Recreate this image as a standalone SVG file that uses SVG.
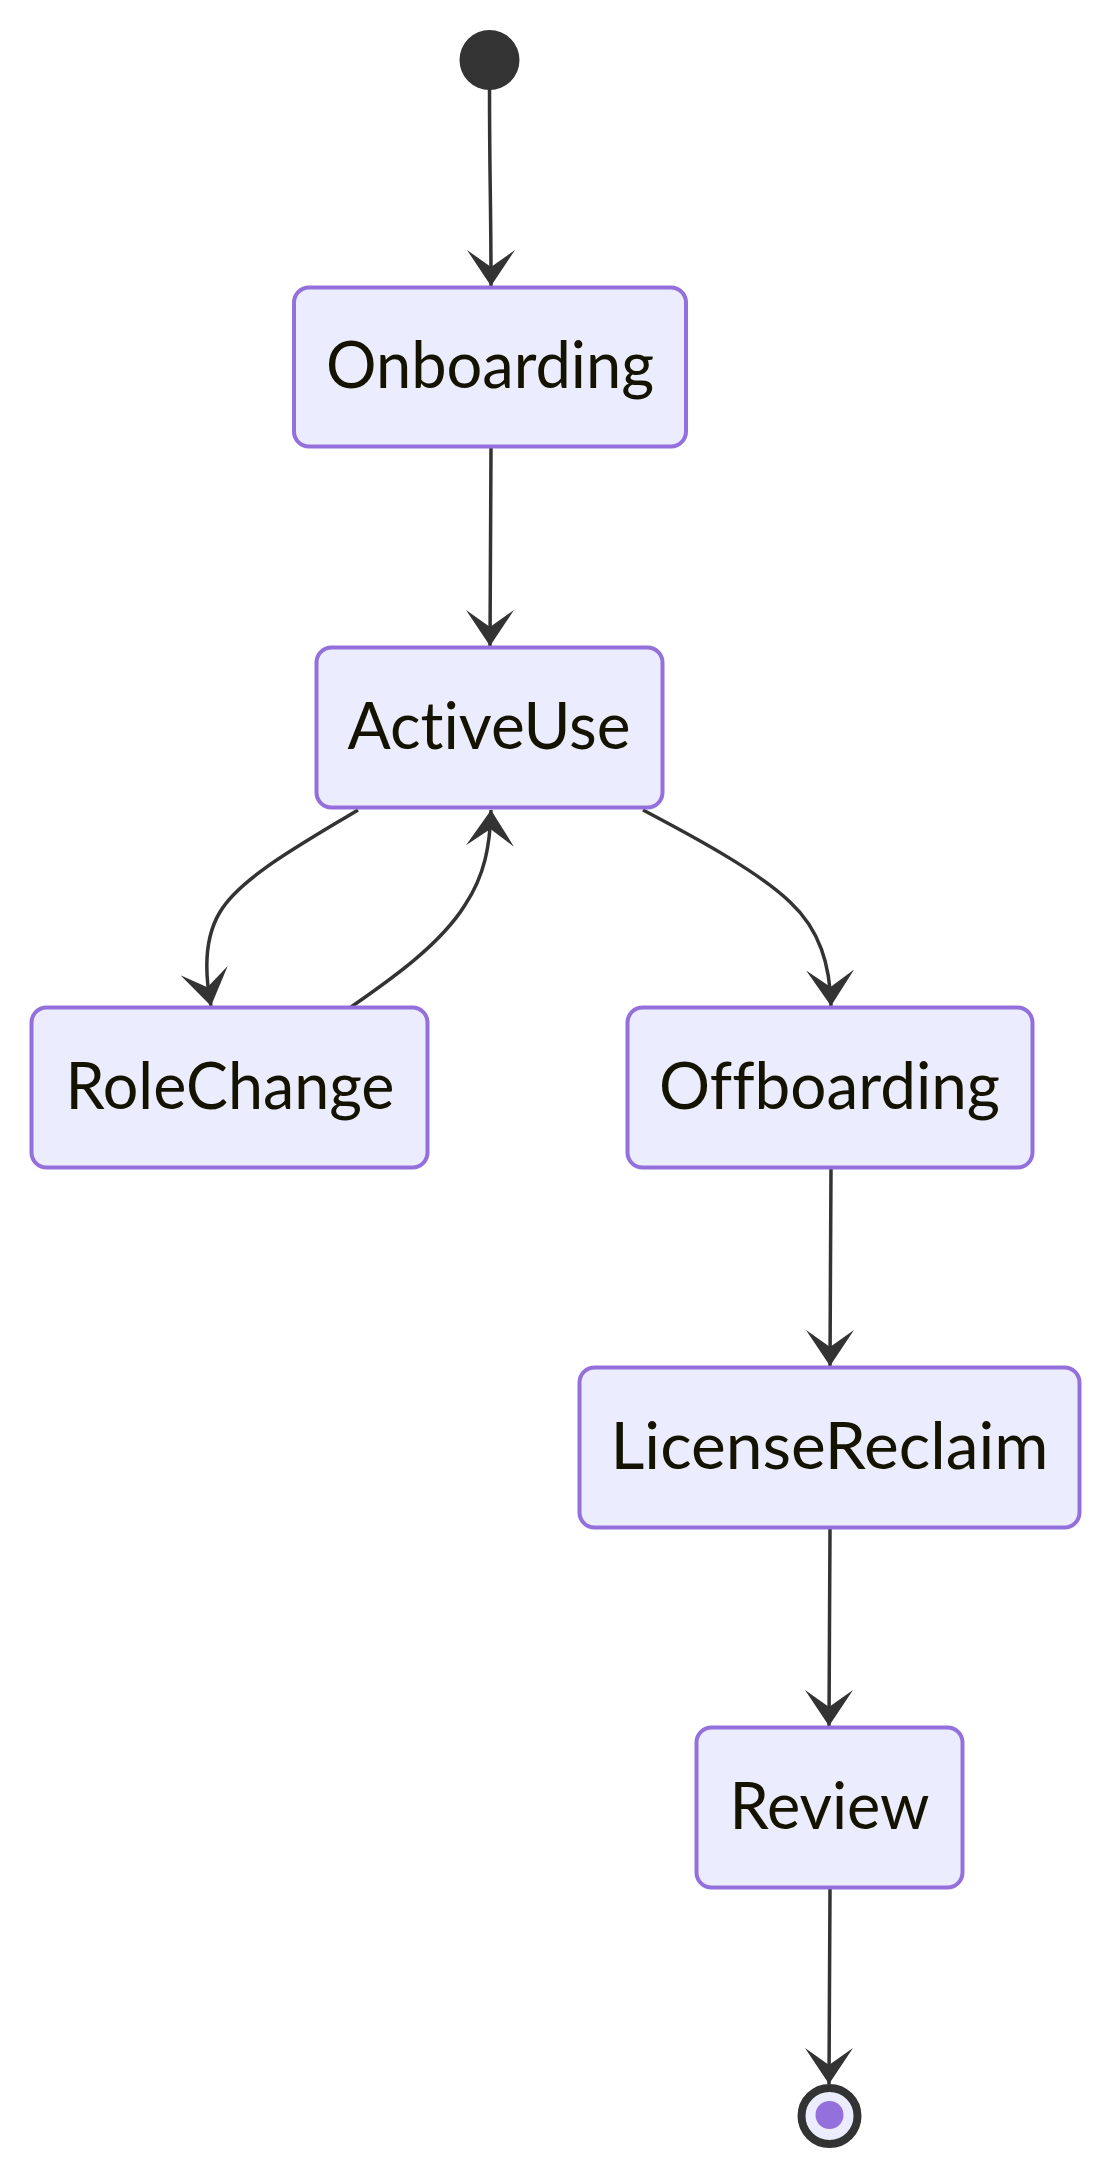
<svg xmlns="http://www.w3.org/2000/svg" width="1112" height="2176" viewBox="0 0 1112 2176">
<style>
.node rect{fill:#ECECFF;stroke:#9370DB;stroke-width:4}
.node text{font-family:Lato,"Open Sans","DejaVu Sans",sans-serif;font-size:66px;fill:#131300;text-anchor:middle;font-variant-ligatures:none}
.edge{fill:none;stroke:#333333;stroke-width:3.5;marker-end:url(#arrow)}
</style>
<defs>
<marker id="arrow" markerUnits="userSpaceOnUse" viewBox="0 0 36 48" refX="36" refY="24" markerWidth="36" markerHeight="48" orient="auto">
<path d="M0,0 L36,24 L0,48 L17,24 Z" fill="#333333"/>
</marker>
</defs>
<rect width="1112" height="2176" fill="#ffffff"/>
<g id="edges">
<path class="edge" d="M489.5,89 C489.5,180 491,200 491,286"/>
<path class="edge" d="M491,448 C491,530 490,560 490,646"/>
<path class="edge" d="M358,810 C300,845 240,878 220,912 C203,940 205,975 211,1006"/>
<path class="edge" d="M351,1007 C390,980 440,945 465,905 C485,875 490,845 491,810"/>
<path class="edge" d="M643,810 C700,840 760,873 790,902 C820,930 830,965 831,1006"/>
<path class="edge" d="M831,1169 C831,1250 830,1290 830,1366"/>
<path class="edge" d="M830,1529 C830,1610 829,1650 829,1726"/>
<path class="edge" d="M830,1889 C830,1970 829,2010 829,2084"/>
</g>
<g id="start">
<circle cx="489.5" cy="60" r="30" fill="#333333"/>
</g>
<g id="Onboarding" class="node">
<rect x="294" y="287.5" width="392" height="159" rx="15" ry="15"/>
<text x="490" y="388" textLength="328" lengthAdjust="spacingAndGlyphs">Onboarding</text>
</g>
<g id="ActiveUse" class="node">
<rect x="316.5" y="647.5" width="346" height="160" rx="15" ry="15"/>
<text x="489" y="748.5" textLength="283" lengthAdjust="spacingAndGlyphs">ActiveUse</text>
</g>
<g id="RoleChange" class="node">
<rect x="31.5" y="1007.5" width="396" height="160" rx="15" ry="15"/>
<text x="230" y="1108.5" textLength="329" lengthAdjust="spacingAndGlyphs">RoleChange</text>
</g>
<g id="Offboarding" class="node">
<rect x="627.5" y="1007.5" width="405" height="160" rx="15" ry="15"/>
<text x="829.5" y="1108.5" textLength="341" lengthAdjust="spacingAndGlyphs">Offboarding</text>
</g>
<g id="LicenseReclaim" class="node">
<rect x="579.5" y="1367.5" width="500" height="160" rx="15" ry="15"/>
<text x="829.5" y="1468.5" textLength="438" lengthAdjust="spacingAndGlyphs">LicenseReclaim</text>
</g>
<g id="Review" class="node">
<rect x="696.5" y="1727.5" width="266" height="160" rx="15" ry="15"/>
<text x="829.5" y="1828.5" textLength="200" lengthAdjust="spacingAndGlyphs">Review</text>
</g>
<g id="end">
<circle cx="829.5" cy="2116" r="28" fill="#ECECFF" stroke="#333333" stroke-width="8"/>
<circle cx="829.5" cy="2115" r="14" fill="#9370DB"/>
</g>
</svg>
